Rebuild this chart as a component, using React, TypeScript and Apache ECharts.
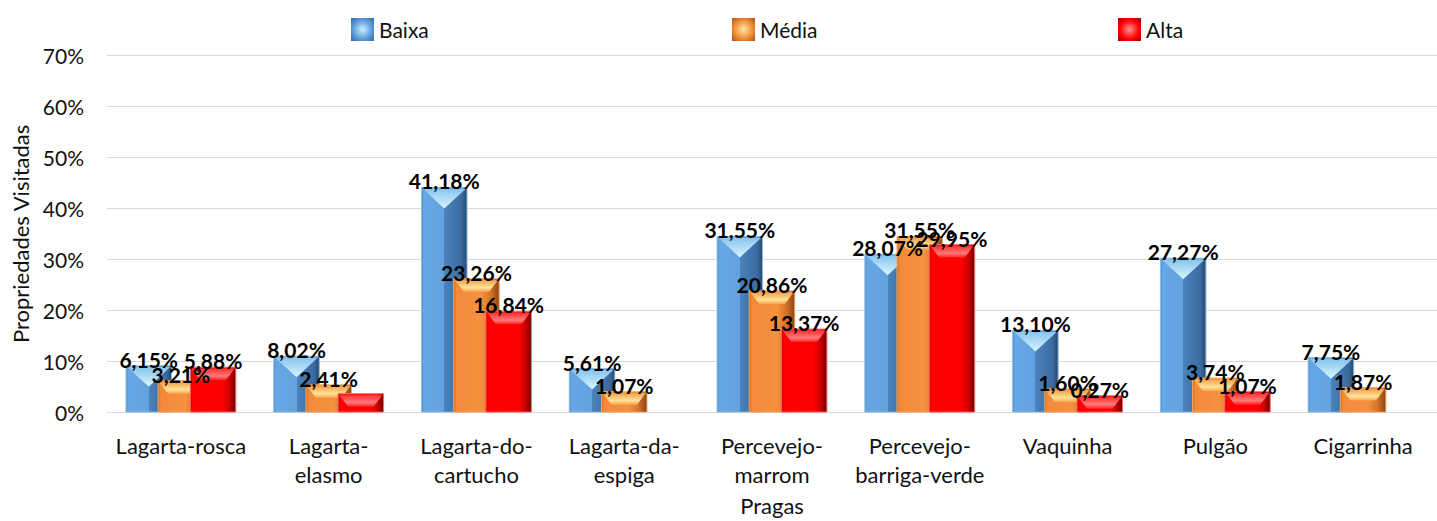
import React, { useEffect, useRef } from "react";
import * as echarts from "echarts";

// ---- data ----
const categories = [
  "Lagarta-rosca",
  "Lagarta-\nelasmo",
  "Lagarta-do-\ncartucho",
  "Lagarta-da-\nespiga",
  "Percevejo-\nmarrom",
  "Percevejo-\nbarriga-verde",
  "Vaquinha",
  "Pulgão",
  "Cigarrinha",
];
const seriesNames = ["Baixa", "Média", "Alta"];
const baixa = [6.15, 8.02, 41.18, 5.61, 31.55, 28.07, 13.1, 27.27, 7.75];
const media = [3.21, 2.41, 23.26, 1.07, 20.86, 31.55, 1.6, 3.74, 1.87];
const alta: (number | null)[] = [5.88, 0.67, 16.84, null, 13.37, 29.95, 0.27, 1.07, null];
const altaUnlabeled = [1]; // category index whose Alta bar carries no label
const yMin = 0;
const yMax = 70;
const yInterval = 10;
const xTitle = "Pragas";
const yTitle = "Propriedades Visitadas";

// ---- styles ----
const FONT = "Lato";
const BAR_W = 0.308;
const BAR_STEP = 0.2176;
const CAP = 15;

type Pal = {
  body: [number, string][];
  edge: string;
  cap: "tri" | "trap";
  capStops: [number, string][];
  legend: [number, string][];
};

const palettes: Pal[] = [
  {
    body: [
      [0, "#4f8cc9"],
      [0.05, "#66a7e5"],
      [0.5, "#62a2df"],
      [0.5, "#4a83be"],
      [0.88, "#3b6b9e"],
      [1, "#27496f"],
    ],
    edge: "#8fbbe3",
    cap: "tri",
    capStops: [
      [0, "#86c3ee"],
      [1, "#d9f6ff"],
    ],
    legend: [
      [0, "#c9efff"],
      [0.55, "#5d9ddb"],
      [1, "#2f5f92"],
    ],
  },
  {
    body: [
      [0, "#d56d1f"],
      [0.06, "#f38a39"],
      [0.6, "#f6913e"],
      [0.8, "#d9762c"],
      [1, "#8c4511"],
    ],
    edge: "#f0a868",
    cap: "trap",
    capStops: [
      [0, "#f59a45"],
      [0.65, "#ffe397"],
      [1, "#f7a850"],
    ],
    legend: [
      [0, "#ffe8a0"],
      [0.55, "#f08a36"],
      [1, "#9a4b12"],
    ],
  },
  {
    body: [
      [0, "#d00000"],
      [0.05, "#ff0000"],
      [0.7, "#ff0000"],
      [0.86, "#d10000"],
      [1, "#6a0000"],
    ],
    edge: "#ff6a6a",
    cap: "trap",
    capStops: [
      [0, "#ff2a2a"],
      [0.65, "#ff7a7a"],
      [1, "#ff2020"],
    ],
    legend: [
      [0, "#ff9090"],
      [0.55, "#ff0000"],
      [1, "#8a0000"],
    ],
  },
];

const stops = (s: [number, string][]) => s.map(([offset, color]) => ({ offset, color }));
const fmt = (v: number) => v.toFixed(2).replace(".", ",") + "%";

function makeRenderItem(slot: number, pal: Pal, unlabeled: number[]) {
  return (params: any, api: any) => {
    const cat = api.value(0);
    const v = api.value(1);
    const c = api.coord([cat, v]);
    const base = api.coord([cat, 0]);
    const band = api.size([1, 0])[0];
    const w = band * BAR_W;
    const xc = c[0] + (slot - 1) * band * BAR_STEP;
    const x0 = xc - w / 2;
    const x1 = xc + w / 2;
    const top = c[1] - CAP;
    const h = base[1] - top;
    const children: any[] = [
      {
        type: "rect",
        shape: { x: x0, y: top, width: w, height: h },
        style: {
          fill: new echarts.graphic.LinearGradient(0, 0, 1, 0, stops(pal.body)),
          stroke: pal.edge,
          lineWidth: 1,
        },
      },
    ];
    if (pal.cap === "tri") {
      const th = Math.min(21, h - 1);
      children.push({
        type: "polygon",
        shape: {
          points: [
            [x0 + 1, top + 1],
            [x1 - 1, top + 1],
            [xc, top + th],
          ],
        },
        style: { fill: new echarts.graphic.LinearGradient(0, 0, 0, 1, stops(pal.capStops)) },
      });
    } else {
      const th = Math.min(13, h - 2);
      children.push({
        type: "polygon",
        shape: {
          points: [
            [x0 + 1, top + 1],
            [x1 - 1, top + 1],
            [x1 - 10, top + th],
            [x0 + 10, top + th],
          ],
        },
        style: { fill: new echarts.graphic.LinearGradient(0, 0, 0, 1, stops(pal.capStops)) },
      });
    }
    if (!unlabeled.includes(cat)) {
      children.push({
        type: "text",
        z2: 100,
        style: {
          text: fmt(v),
          x: xc,
          y: top + 4,
          align: "center",
          verticalAlign: "bottom",
          fontFamily: FONT,
          fontWeight: "bold",
          fontSize: 21,
          fill: "#000",
        },
      });
    }
    return { type: "group", children };
  };
}

const toData = (vals: (number | null)[]) =>
  vals.map((v, i) => [i, v] as [number, number | null]).filter((d) => d[1] !== null);

export default function App() {
  const ref = useRef<HTMLDivElement>(null);
  useEffect(() => {
    if (!ref.current) return;
    const chart = echarts.init(ref.current, undefined, { renderer: "svg" });
    const all = [baixa, media, alta];
    const legendLefts = [346, 727, 1113];
    chart.setOption({
      animation: false,
      backgroundColor: "#ffffff",
      textStyle: { fontFamily: FONT },
      legend: seriesNames.map((n, i) => ({
        data: [
          {
            name: n,
            icon: "rect",
            itemStyle: {
              color: {
                type: "radial",
                x: 0.5,
                y: 0.5,
                r: 0.75,
                colorStops: stops(palettes[i].legend),
              },
            },
          },
        ],
        left: legendLefts[i],
        top: 13,
        itemWidth: 23,
        itemHeight: 23,
        selectedMode: false,
        textStyle: { fontFamily: FONT, fontSize: 21, color: "#111" },
      })),
      grid: { left: 107, top: 55.7, width: 1344, height: 361 },
      xAxis: {
        type: "category",
        data: categories,
        name: xTitle,
        nameLocation: "middle",
        nameGap: 80,
        nameTextStyle: { fontFamily: FONT, fontSize: 22, color: "#111" },
        axisLine: { lineStyle: { color: "#d9d9d9", width: 1 } },
        axisTick: { show: false },
        axisLabel: {
          interval: 0,
          margin: 19,
          fontFamily: FONT,
          fontSize: 22,
          lineHeight: 29,
          color: "#111",
        },
      },
      yAxis: {
        type: "value",
        min: yMin,
        max: yMax,
        interval: yInterval,
        name: yTitle,
        nameLocation: "middle",
        nameRotate: 90,
        nameGap: 74,
        nameTextStyle: { fontFamily: FONT, fontSize: 22, color: "#111" },
        axisLine: { show: false },
        axisTick: { show: false },
        axisLabel: {
          formatter: "{value}%",
          margin: 23,
          fontFamily: FONT,
          fontSize: 21,
          color: "#111",
        },
        splitLine: { lineStyle: { color: "#d9d9d9", width: 1 } },
      },
      series: seriesNames.map((n, i) => ({
        name: n,
        type: "custom",
        renderItem: makeRenderItem(i, palettes[i], i === 2 ? altaUnlabeled : []),
        encode: { x: 0, y: 1 },
        itemStyle: { color: palettes[i].body[2][1] },
        data: toData(all[i]),
        clip: false,
      })),
    });
    return () => chart.dispose();
  }, []);
  return (
    <div
      ref={ref}
      style={{ position: "fixed", left: 0, top: 0, width: 1437, height: 521, background: "#fff" }}
    />
  );
}
